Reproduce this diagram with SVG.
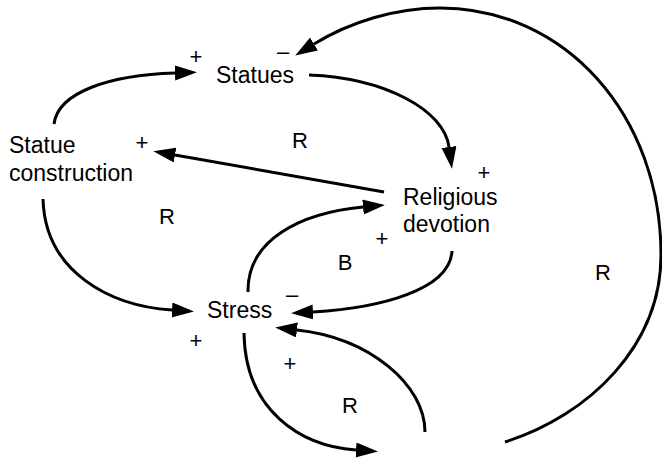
<svg xmlns="http://www.w3.org/2000/svg" width="662" height="461" viewBox="0 0 662 461">
<style>
  .node { font-family: "Liberation Sans", Arial, sans-serif; font-size: 23px; fill: #000; }
  .sign { font-family: "Liberation Sans", Arial, sans-serif; font-size: 22px; fill: #000; text-anchor: middle; }
  .loop { font-family: "Liberation Sans", Arial, sans-serif; font-size: 22px; fill: #000; text-anchor: middle; }
  .link { fill: none; stroke: #000; stroke-width: 3; marker-end: url(#ah); }
</style>
<defs>
  <marker id="ah" markerUnits="userSpaceOnUse" markerWidth="24" markerHeight="16" refX="0" refY="7.5" orient="auto">
    <path d="M0,0 L22,7.5 L0,15 z" fill="#000"/>
  </marker>
</defs>
<rect width="662" height="461" fill="#fff"/>
<g id="connectors">
  <path class="link" d="M54,124 C58,92 110,75 175,73"/>
  <path class="link" d="M309,75 C385,78 444,110 449,147"/>
  <path class="link" d="M384,192 L175,155"/>
  <path class="link" d="M505,442 C590,415 661,345 661,255 C661,115 565,8 440,8 C395,8 350,22 314,44"/>
  <path class="link" d="M43,199 C45,272 110,306 172,310"/>
  <path class="link" d="M452,251 C450,290 380,308 313,312"/>
  <path class="link" d="M248,292 C247,240 300,213 363,207"/>
  <path class="link" d="M244,333 C245,410 300,446 356,450"/>
  <path class="link" d="M425,432 C425,385 370,338 297,330"/>
</g>
<g id="node-statues">
  <text class="node" x="255" y="83" text-anchor="middle">Statues</text>
</g>
<g id="node-statue-construction">
  <text class="node" x="9" y="153">Statue</text>
  <text class="node" x="9" y="181">construction</text>
</g>
<g id="node-religious-devotion">
  <text class="node" x="403" y="205">Religious</text>
  <text class="node" x="403" y="232">devotion</text>
</g>
<g id="node-stress">
  <text class="node" x="207" y="318">Stress</text>
</g>
<g id="polarities">
  <text class="sign" x="196" y="64">+</text>
  <text class="sign" x="283" y="59">–</text>
  <text class="sign" x="142" y="150">+</text>
  <text class="sign" x="484" y="180">+</text>
  <text class="sign" x="382" y="246">+</text>
  <text class="sign" x="292" y="302">–</text>
  <text class="sign" x="196" y="348">+</text>
  <text class="sign" x="290" y="371">+</text>
</g>
<g id="loops">
  <text class="loop" x="300" y="148">R</text>
  <text class="loop" x="167" y="224">R</text>
  <text class="loop" x="345" y="270">B</text>
  <text class="loop" x="603" y="280">R</text>
  <text class="loop" x="350" y="413">R</text>
</g>
</svg>
